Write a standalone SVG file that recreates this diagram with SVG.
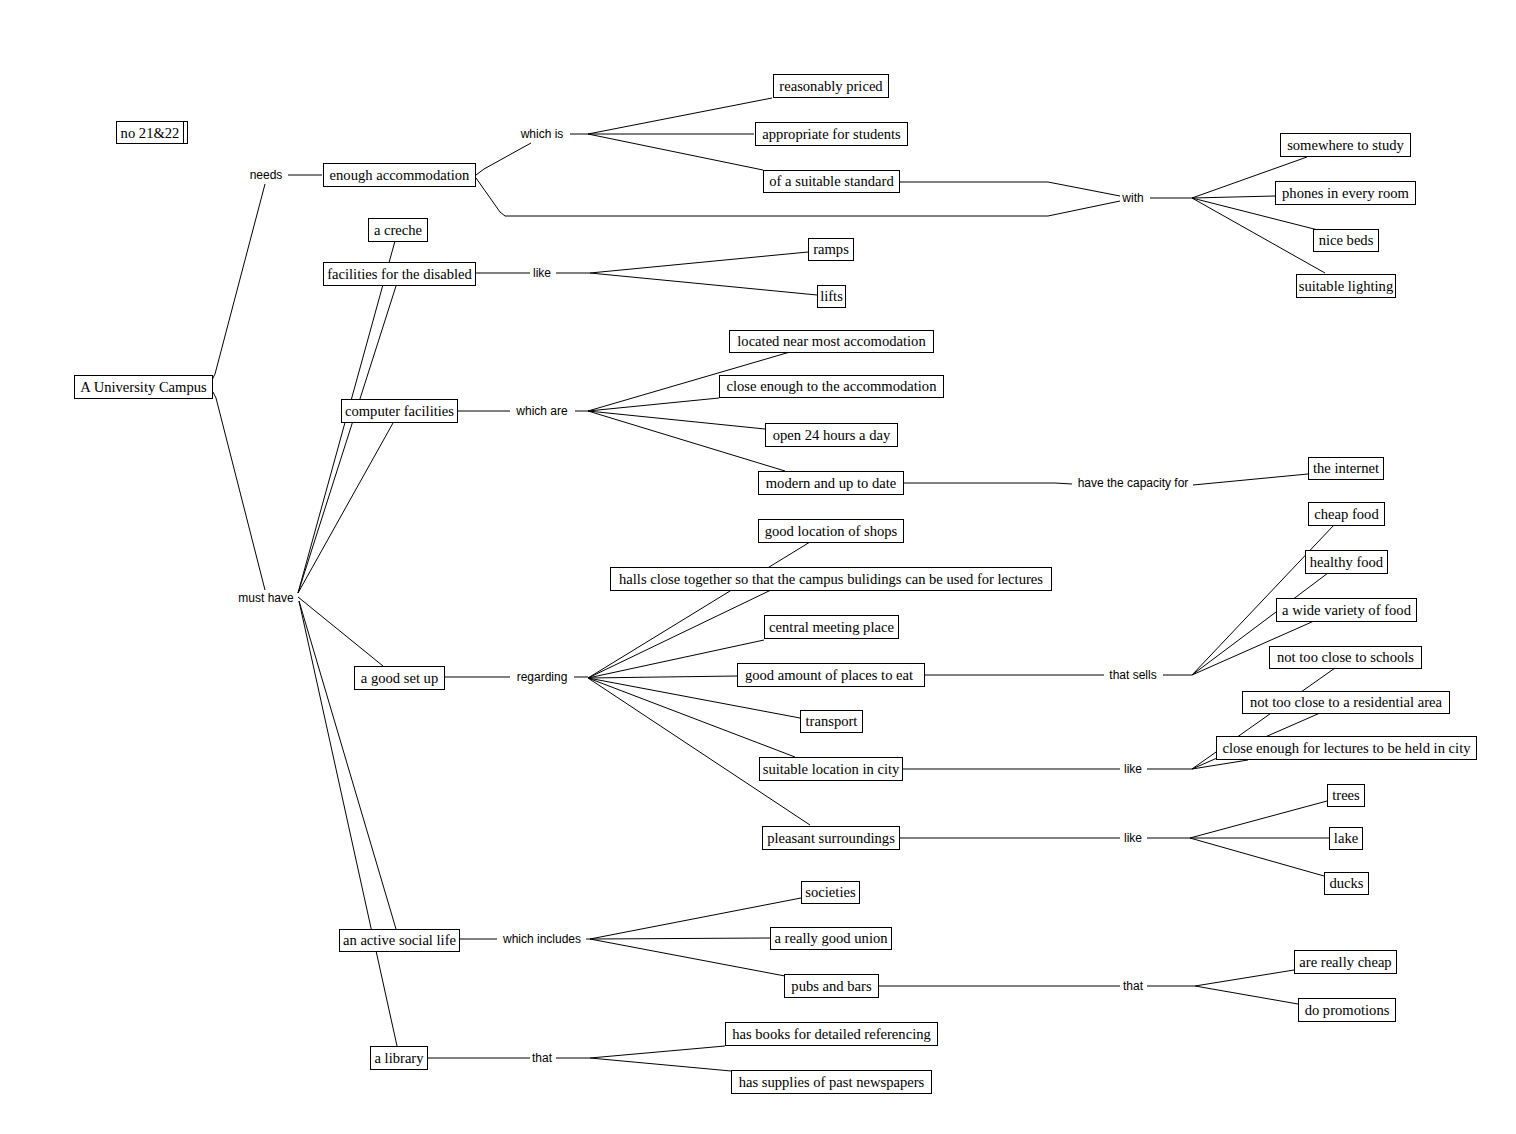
<svg xmlns="http://www.w3.org/2000/svg" width="1516" height="1134" viewBox="0 0 1516 1134">
<style>
.n rect{fill:#fff;stroke:#000;stroke-width:1}
.n text{font-family:"Liberation Serif",serif;font-size:14.6px;text-anchor:middle;fill:#000}
.l text{font-family:"Liberation Sans",Arial,sans-serif;font-size:12px;text-anchor:middle;fill:#000}
#connectors path{stroke:#000;stroke-width:1;fill:none}
</style>
<rect width="1516" height="1134" fill="#fff"/>
<g id="connectors">
<path d="M212,380 L215,374 L265,184"/>
<path d="M288,175 H322"/>
<path d="M213,392 L216,398 L265,590"/>
<path d="M476,175 L484,169 L531,143"/>
<path d="M570,134 H588 M588,134 L772,98 M588,134 L754,134 M588,134 L763,170"/>
<path d="M900,182 H1048 L1120,196"/>
<path d="M476,178 L500,212 L505,216 H1048 L1120,201"/>
<path d="M1150,198 H1192 M1192,198 L1307,157 M1192,198 L1275,196 M1192,198 L1318,230 M1192,198 L1325,273"/>
<path d="M298,593 L395,241 M298,593 L396,286 M298,593 L393,423 M298,597 L383,666 M299,601 L396,929 M299,601 L397,1046"/>
<path d="M476,273 H530 M556,273 H590 M590,273 L808,252 M590,273 L817,295"/>
<path d="M458,411 H510 M575,411 H588 M588,411 L790,352 M588,411 L719,398 M588,411 L765,429 M588,411 L785,471"/>
<path d="M904,483 H1055 L1072,484 M1193,485 L1308,474"/>
<path d="M445,677 H510 M574,677 H588 M588,678 L810,542 M588,678 L771,590 M588,678 L764,640 M588,678 L737,676 M588,678 L800,718 M588,678 L795,757 M588,678 L810,825"/>
<path d="M925,675 H1104 M1163,675 H1192 M1192,675 L1334,525 M1192,675 L1328,573 M1192,675 L1314,621"/>
<path d="M903,769 H1120 M1147,769 H1192 M1192,769 L1335,668 M1192,769 L1320,713 M1192,769 L1248,760"/>
<path d="M900,838 H1120 M1147,838 H1190 M1190,838 L1327,801 M1190,838 L1329,838 M1190,838 L1324,876"/>
<path d="M460,939 H497 M586,939 H590 M590,939 L801,898 M590,939 L770,938 M590,939 L785,976"/>
<path d="M879,986 H1120 M1147,986 H1195 M1195,986 L1294,970 M1195,986 L1298,1004"/>
<path d="M428,1058 H530 M556,1058 H590 M590,1058 L725,1046 M590,1058 L731,1071"/>
</g>
<g id="links" class="l">
<g id="l-needs"><text x="266" y="179">needs</text></g>
<g id="l-whichis"><text x="542" y="138">which is</text></g>
<g id="l-with"><text x="1133" y="202">with</text></g>
<g id="l-like1"><text x="542" y="277">like</text></g>
<g id="l-whichare"><text x="542" y="415">which are</text></g>
<g id="l-capacity"><text x="1133" y="487">have the capacity for</text></g>
<g id="l-musthave"><text x="266" y="602">must have</text></g>
<g id="l-regarding"><text x="542" y="681">regarding</text></g>
<g id="l-thatsells"><text x="1133" y="679">that sells</text></g>
<g id="l-like2"><text x="1133" y="773">like</text></g>
<g id="l-like3"><text x="1133" y="842">like</text></g>
<g id="l-whichincludes"><text x="542" y="943">which includes</text></g>
<g id="l-that1"><text x="1133" y="990">that</text></g>
<g id="l-that2"><text x="542" y="1062">that</text></g>
</g>
<g id="nodes" class="n">
<g id="n0"><rect x="116.5" y="121.5" width="71" height="22"/><path d="M183.5,121.5 V143.5" stroke="#000"/><text x="150" y="137.5">no 21&amp;22</text></g>
<g id="n1"><rect x="74.5" y="375.5" width="138" height="23"/><text x="143.5" y="391.5">A University Campus</text></g>
<g id="n2"><rect x="323.5" y="163.5" width="152" height="23"/><text x="399.5" y="179.5">enough accommodation</text></g>
<g id="n3"><rect x="773.5" y="74.5" width="115" height="23"/><text x="831" y="90.5">reasonably priced</text></g>
<g id="n4"><rect x="755.5" y="122.5" width="152" height="23"/><text x="831.5" y="138.5">appropriate for students</text></g>
<g id="n5"><rect x="763.5" y="170.5" width="136" height="22"/><text x="831.5" y="186">of a suitable standard</text></g>
<g id="n6"><rect x="1280.5" y="133.5" width="130" height="23"/><text x="1345.5" y="149.5">somewhere to study</text></g>
<g id="n7"><rect x="1275.5" y="181.5" width="140" height="23"/><text x="1345.5" y="197.5">phones in every room</text></g>
<g id="n8"><rect x="1313.5" y="229.5" width="65" height="22"/><text x="1346" y="245">nice beds</text></g>
<g id="n9"><rect x="1296.5" y="274.5" width="99" height="23"/><text x="1346" y="290.5">suitable lighting</text></g>
<g id="n10"><rect x="368.5" y="218.5" width="59" height="23"/><text x="398" y="234.5">a creche</text></g>
<g id="n11"><rect x="323.5" y="262.5" width="152" height="23"/><text x="399.5" y="278.5">facilities for the disabled</text></g>
<g id="n12"><rect x="808.5" y="238.5" width="45" height="22"/><text x="831" y="254">ramps</text></g>
<g id="n13"><rect x="817.5" y="285.5" width="28" height="22"/><text x="831.5" y="301">lifts</text></g>
<g id="n14"><rect x="341.5" y="399.5" width="116" height="23"/><text x="399.5" y="415.5">computer facilities</text></g>
<g id="n15"><rect x="729.5" y="330.5" width="204" height="22"/><text x="831.5" y="346">located near most accomodation</text></g>
<g id="n16"><rect x="719.5" y="375.5" width="224" height="22"/><text x="831.5" y="391">close enough to the accommodation</text></g>
<g id="n17"><rect x="765.5" y="423.5" width="132" height="23"/><text x="831.5" y="439.5">open 24 hours a day</text></g>
<g id="n18"><rect x="758.5" y="471.5" width="145" height="23"/><text x="831" y="487.5">modern and up to date</text></g>
<g id="n19"><rect x="1308.5" y="457.5" width="75" height="22"/><text x="1346" y="473">the internet</text></g>
<g id="n20"><rect x="354.5" y="666.5" width="90" height="23"/><text x="399.5" y="682.5">a good set up</text></g>
<g id="n21"><rect x="758.5" y="519.5" width="145" height="23"/><text x="831" y="535.5">good location of shops</text></g>
<g id="n22"><rect x="610.5" y="567.5" width="441" height="23"/><text x="831" y="583.5">halls close together so that the campus bulidings can be used for lectures</text></g>
<g id="n23"><rect x="764.5" y="615.5" width="134" height="23"/><text x="831.5" y="631.5">central meeting place</text></g>
<g id="n24"><rect x="737.5" y="663.5" width="187" height="23"/><text x="829" y="679.5">good amount of places to eat</text></g>
<g id="n25"><rect x="800.5" y="710.5" width="62" height="22"/><text x="831.5" y="726">transport</text></g>
<g id="n26"><rect x="759.5" y="757.5" width="143" height="23"/><text x="831" y="773.5">suitable location in city</text></g>
<g id="n27"><rect x="762.5" y="826.5" width="137" height="23"/><text x="831" y="842.5">pleasant surroundings</text></g>
<g id="n28"><rect x="1308.5" y="502.5" width="76" height="23"/><text x="1346.5" y="518.5">cheap food</text></g>
<g id="n29"><rect x="1305.5" y="550.5" width="82" height="23"/><text x="1346.5" y="566.5">healthy food</text></g>
<g id="n30"><rect x="1276.5" y="598.5" width="140" height="23"/><text x="1346.5" y="614.5">a wide variety of food</text></g>
<g id="n31"><rect x="1269.5" y="646.5" width="152" height="22"/><text x="1345.5" y="662">not too close to schools</text></g>
<g id="n32"><rect x="1242.5" y="691.5" width="207" height="22"/><text x="1346" y="707">not too close to a residential area</text></g>
<g id="n33"><rect x="1216.5" y="736.5" width="260" height="23"/><text x="1346.5" y="752.5">close enough for lectures to be held in city</text></g>
<g id="n34"><rect x="1327.5" y="784.5" width="37" height="22"/><text x="1346" y="800">trees</text></g>
<g id="n35"><rect x="1329.5" y="827.5" width="33" height="22"/><text x="1346" y="843">lake</text></g>
<g id="n36"><rect x="1324.5" y="872.5" width="44" height="22"/><text x="1346.5" y="888">ducks</text></g>
<g id="n37"><rect x="339.5" y="929.5" width="120" height="22"/><text x="399.5" y="945">an active social life</text></g>
<g id="n38"><rect x="801.5" y="881.5" width="58" height="22"/><text x="830.5" y="897">societies</text></g>
<g id="n39"><rect x="770.5" y="927.5" width="121" height="22"/><text x="831" y="943">a really good union</text></g>
<g id="n40"><rect x="784.5" y="974.5" width="94" height="23"/><text x="831.5" y="990.5">pubs and bars</text></g>
<g id="n41"><rect x="1294.5" y="950.5" width="102" height="23"/><text x="1345.5" y="966.5">are really cheap</text></g>
<g id="n42"><rect x="1298.5" y="998.5" width="97" height="23"/><text x="1347" y="1014.5">do promotions</text></g>
<g id="n43"><rect x="370.5" y="1046.5" width="57" height="23"/><text x="399" y="1062.5">a library</text></g>
<g id="n44"><rect x="725.5" y="1022.5" width="212" height="23"/><text x="831.5" y="1038.5">has books for detailed referencing</text></g>
<g id="n45"><rect x="731.5" y="1070.5" width="200" height="23"/><text x="831.5" y="1086.5">has supplies of past newspapers</text></g>
</g>
</svg>
